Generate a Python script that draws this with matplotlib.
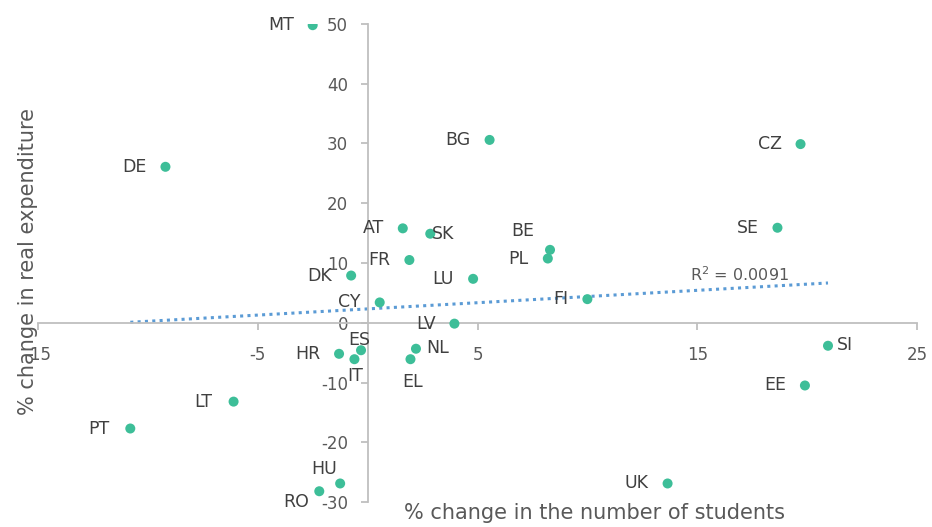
import numpy as np
import matplotlib
matplotlib.use("Agg")
import matplotlib.pyplot as plt

# ---- data ----
countries = ["MT", "DE", "AT", "SK", "FR", "BG", "CZ", "SE", "BE", "PL", "LU", "FI",
             "SI", "EE", "UK", "DK", "CY", "LV", "ES", "HR", "IT", "NL", "EL", "LT",
             "PT", "HU", "RO"]
students_change = [-2.5, -9.2, 1.6, 2.85, 1.9, 5.55, 19.7, 18.65, 8.3, 8.2, 4.8, 10.0,
                   20.95, 19.9, 13.65, -0.75, 0.55, 3.95, -0.3, -1.3, -0.6, 2.2, 1.95, -6.1,
                   -10.8, -1.25, -2.2]
expenditure_change = [49.8, 26.1, 15.8, 14.9, 10.5, 30.6, 29.9, 15.9, 12.2, 10.75, 7.35, 3.95,
                      -3.85, -10.5, -26.9, 7.9, 3.4, -0.15, -4.6, -5.2, -6.1, -4.35, -6.1, -13.2,
                      -17.7, -26.9, -28.2]
x_ticks = [-15, -5, 5, 15, 25]
y_ticks = [-30, -20, -10, 0, 10, 20, 30, 40, 50]
r2_label = "R$^2$ = 0.0091"
x_title = "% change in the number of students"
y_title = "% change in real expenditure"

# label placement (pixel offsets, dy positive = down)
L = (-19, 0, "right")
label_pos = {
    "MT": L, "DE": L, "AT": L, "SK": (2, 0, "left"), "FR": L, "BG": L, "CZ": L,
    "SE": L, "BE": (-27, -19, "center"), "PL": L, "LU": L, "FI": L,
    "SI": (9, -1, "left"), "EE": L, "UK": L, "DK": L, "CY": L, "LV": L,
    "ES": (-2, -10, "center"), "HR": L, "IT": (1, 17, "center"),
    "NL": (10, -1, "left"), "EL": (2, 23, "center"), "LT": (-21, 0, "right"),
    "PT": (-21, 0, "right"), "HU": (-16, -14, "center"), "RO": (-23, 11, "center"),
}

text_col = "#595959"
axis_col = "#BFBFBF"
pt_col = "#3DBE98"
trend_col = "#5B9BD5"

plt.rcParams["font.family"] = ["DejaVu Sans"]
plt.rcParams["axes.unicode_minus"] = False

fig = plt.figure(figsize=(9.32, 5.27), dpi=100)
ax = fig.add_axes([38 / 932, 1 - 502 / 527, (917 - 38) / 932, (502 - 24) / 527])

ax.set_xlim(-15, 25)
ax.set_ylim(-30, 50)

ax.scatter(students_change, expenditure_change, s=52, color=pt_col, zorder=3,
           edgecolors="none")

for c, x, y in zip(countries, students_change, expenditure_change):
    dx, dy, ha = label_pos[c]
    ax.annotate(c, (x, y), xytext=(dx, -dy), textcoords="offset pixels",
                ha=ha, va="center", fontsize=12.5, color="#404040", zorder=4)

# linear trendline
xs = np.array(students_change)
ys = np.array(expenditure_change)
slope, intercept = np.polyfit(xs, ys, 1)
xl = np.array([xs.min(), xs.max()])
ax.plot(xl, slope * xl + intercept, linestyle=(0, (1, 1.4)), color=trend_col,
        linewidth=2.2, zorder=2)
ax.text(16.9, 8.0, r2_label, ha="center", va="center", fontsize=11.5, color=text_col)

# axes through origin
for s in ["top", "right"]:
    ax.spines[s].set_visible(False)
ax.spines["left"].set_position(("data", 0))
ax.spines["bottom"].set_position(("data", 0))
for s in ["left", "bottom"]:
    ax.spines[s].set_color(axis_col)
    ax.spines[s].set_linewidth(1.3)
ax.set_xticks(x_ticks)
ax.set_yticks(y_ticks)
ax.tick_params(axis="both", colors=axis_col, labelcolor=text_col, labelsize=12,
               length=5, width=1.3, direction="out")
ax.tick_params(axis="x", pad=12)
ax.tick_params(axis="y", pad=9)
ax.patch.set_visible(False)

fig.text(594 / 932, 1 - 513 / 527, x_title, ha="center", va="center",
         fontsize=15, color=text_col)
fig.text(28 / 932, 1 - 262 / 527, y_title, ha="center", va="center",
         rotation=90, fontsize=15, color=text_col)

fig.savefig("out.png", dpi=100)
